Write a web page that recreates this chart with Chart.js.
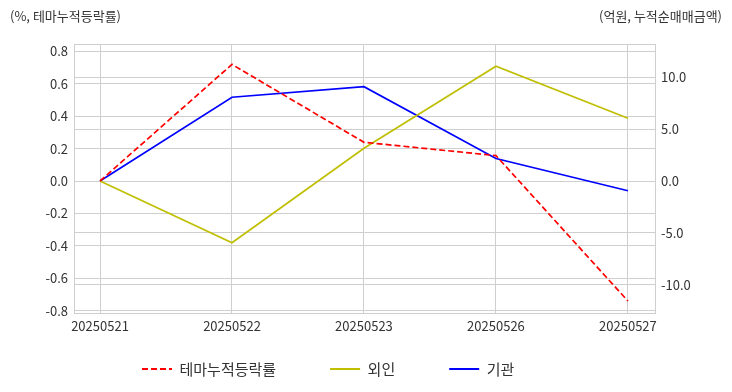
<!DOCTYPE html>
<html>
<head>
<meta charset="utf-8">
<script src="https://cdn.jsdelivr.net/npm/chart.js@4"></script>
<style>
  body { margin: 0; background: #fff; }
</style>
</head>
<body>
<canvas id="myChart" width="732" height="392"></canvas>
<script>
// data
const dates = ['20250521', '20250522', '20250523', '20250526', '20250527'];
const themeRate = [0, 0.72, 0.239, 0.157, -0.741];   // left axis (%)
const foreign = [0, -5.96, 3.16, 11.07, 6.05];        // right axis (억원)
const institution = [0, 8.08, 9.10, 2.17, -0.94];     // right axis (억원)
const leftTicks = [-0.8, -0.6, -0.4, -0.2, 0, 0.2, 0.4, 0.6, 0.8];
const rightTicks = [-10, -5, 0, 5, 10];

const font = "'Noto Sans CJK KR', 'Noto Sans', sans-serif";
const gridColor = '#cfcfcf';
const textColor = '#333333';

function pts(arr) {
    return arr.map((v, i) => ({ x: i, y: v }));
}

// header labels, top border, legend placement
const extras = {
    id: 'extras',
    afterLayout(chart) {
        const lg = chart.legend;
        const pad = lg.options.labels.padding;
        lg.left = 142 - pad;
        lg.top = 369 - 7.5 - pad;
    },
    beforeDatasetsDraw(chart) {
        const { ctx, chartArea: a } = chart;
        ctx.save();
        ctx.strokeStyle = gridColor;
        ctx.lineWidth = 1;
        ctx.beginPath();
        ctx.moveTo(a.left, a.top + 0.5);
        ctx.lineTo(a.right, a.top + 0.5);
        ctx.stroke();
        ctx.restore();
    },
    afterDraw(chart) {
        const ctx = chart.ctx;
        ctx.save();
        ctx.fillStyle = textColor;
        ctx.font = '13px ' + font;
        ctx.textBaseline = 'middle';
        ctx.textAlign = 'left';
        ctx.fillText('(%, 테마누적등락률)', 10, 16);
        ctx.textAlign = 'right';
        ctx.fillText('(억원, 누적순매매금액)', 722, 16);
        ctx.restore();
    }
};

const ctx = document.getElementById('myChart').getContext('2d');

new Chart(ctx, {
    type: 'line',
    data: {
        datasets: [{
            label: '테마누적등락률',
            data: pts(themeRate),
            yAxisID: 'y',
            borderColor: '#ff0000',
            backgroundColor: '#ff0000',
            borderDash: [6, 3],
            borderWidth: 1.7,
            pointRadius: 0,
            tension: 0
        }, {
            label: '외인',
            data: pts(foreign),
            yAxisID: 'y1',
            borderColor: '#bfbf00',
            backgroundColor: '#bfbf00',
            borderWidth: 1.7,
            pointRadius: 0,
            tension: 0
        }, {
            label: '기관',
            data: pts(institution),
            yAxisID: 'y1',
            borderColor: '#0000ff',
            backgroundColor: '#0000ff',
            borderWidth: 1.7,
            pointRadius: 0,
            tension: 0
        }]
    },
    options: {
        responsive: false,
        animation: false,
        layout: { padding: { top: 44, left: 0, right: 0, bottom: 0 } },
        plugins: {
            tooltip: { enabled: false },
            legend: {
                position: 'bottom',
                align: 'start',
                maxHeight: 54,
                labels: {
                    usePointStyle: true,
                    pointStyle: 'line',
                    pointStyleWidth: 30,
                    padding: 54,
                    color: textColor,
                    font: { family: font, size: 15 },
                    generateLabels: chart => Chart.defaults.plugins.legend.labels.generateLabels(chart).map((l, i) => ({
                        ...l,
                        lineDash: chart.data.datasets[i].borderDash || [],
                        lineWidth: 2
                    }))
                }
            }
        },
        scales: {
            x: {
                type: 'linear',
                min: -0.197,
                max: 4.205,
                afterBuildTicks: s => { s.ticks = dates.map((_, i) => ({ value: i })); },
                afterFit: s => { s.height = 25; },
                ticks: {
                    callback: v => dates[v],
                    color: textColor,
                    padding: 5,
                    maxRotation: 0,
                    font: { family: font, size: 13 }
                },
                grid: { color: gridColor, drawTicks: false },
                border: { color: gridColor }
            },
            y: {
                position: 'left',
                min: -0.815,
                max: 0.846,
                afterBuildTicks: s => { s.ticks = leftTicks.map(v => ({ value: v })); },
                afterFit: s => { s.width = 74; },
                ticks: {
                    callback: v => v.toFixed(1),
                    color: textColor,
                    padding: 6,
                    font: { family: font, size: 13 }
                },
                grid: { color: gridColor, drawTicks: false },
                border: { color: gridColor }
            },
            y1: {
                position: 'right',
                min: -12.74,
                max: 13.22,
                afterBuildTicks: s => { s.ticks = rightTicks.map(v => ({ value: v })); },
                afterFit: s => { s.width = 77; },
                ticks: {
                    callback: v => v.toFixed(1),
                    color: textColor,
                    padding: 6,
                    font: { family: font, size: 13 }
                },
                grid: {
                    color: c => (c.tick && c.tick.value === 0 ? 'rgba(0,0,0,0)' : gridColor),
                    drawTicks: false
                },
                border: { color: gridColor }
            }
        }
    },
    plugins: [extras]
});
</script>
</body>
</html>
